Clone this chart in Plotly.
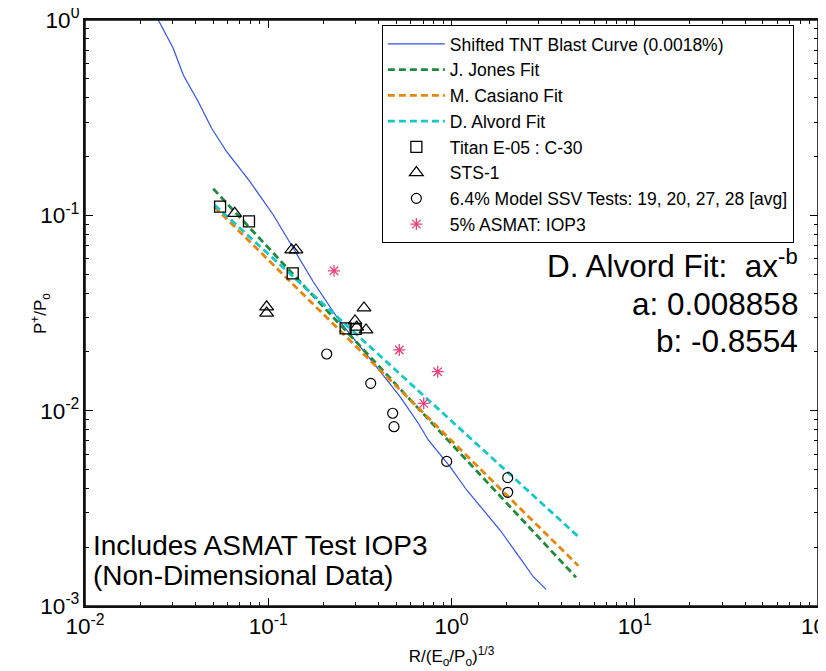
import plotly.graph_objects as go

# ---------------- data ----------------
tnt_x = [0.0251, 0.0303, 0.0344, 0.0415, 0.0491, 0.0593, 0.0795, 0.1066, 0.137,
         0.176, 0.2463, 0.268, 0.330, 0.416, 0.5236, 0.659, 0.747, 0.981, 1.21,
         1.491, 1.839, 2.269, 2.795, 3.28]
tnt_y = [1.0, 0.7164, 0.5232, 0.3818, 0.2790, 0.2117, 0.1487, 0.1004, 0.0678,
         0.0457, 0.02853, 0.0259, 0.02045, 0.01553, 0.01179, 0.00862, 0.00708,
         0.00517, 0.003926, 0.0031, 0.002449, 0.001861, 0.001412, 0.001217]

jones_x = [0.0501, 4.78]
jones_y = [0.1368, 0.001402]

casiano_x = [0.0508, 4.92]
casiano_y = [0.1107, 0.001608]

alvord_x = [0.051, 4.92]
alvord_y = [0.1129, 0.002266]

titan_x = [0.0546, 0.0785, 0.136, 0.2644, 0.300]
titan_y = [0.1107, 0.0932, 0.0505, 0.0264, 0.0262]

sts_x = [0.0656, 0.1343, 0.1417, 0.098, 0.098, 0.333, 0.2975, 0.304, 0.3414]
sts_y = [0.1024, 0.0665, 0.0665, 0.0340, 0.0316, 0.0336, 0.0288, 0.0268, 0.0259]

ssv_x = [0.2085, 0.3624, 0.4775, 0.4855, 0.9414, 2.026, 2.026]
ssv_y = [0.0195, 0.0138, 0.0097, 0.00828, 0.0055, 0.00454, 0.00382]

asmat_x = [0.2285, 0.519, 0.8407, 0.7053]
asmat_y = [0.052, 0.02046, 0.01583, 0.0109]

names = ["Shifted TNT Blast Curve (0.0018%)", "J. Jones Fit", "M. Casiano Fit",
         "D. Alvord Fit", "Titan E-05 : C-30", "STS-1",
         "6.4% Model SSV Tests: 19, 20, 27, 28 [avg]", "5% ASMAT: IOP3"]

# tick labels: plotly's default power labels -> labels shown in the reference
tick_alias = {
    "10<sup>\u22123</sup>": "10<sup>-3</sup>",
    "10<sup>\u22122</sup>": "10<sup>-2</sup>",
    "10<sup>\u22121</sup>": "10<sup>-1</sup>",
    "1": "10<sup>0</sup>",
    "10": "10<sup>1</sup>",
    "10<sup>2</sup>": "10<sup>2</sup>",
}

# ---------------- figure ----------------
FONT = "Liberation Sans, Arial, Helvetica, sans-serif"
NARROW = "Liberation Sans Narrow, Arial Narrow, Liberation Sans, Arial, sans-serif"

fig = go.Figure()
fig.add_trace(go.Scatter(x=tnt_x, y=tnt_y, mode="lines", name=names[0],
                         line=dict(color="#3352E0", width=1.2), legendgroup="a"))
fig.add_trace(go.Scatter(x=jones_x, y=jones_y, mode="lines", name=names[1],
                         line=dict(color="#208A3C", width=2.8, dash="7px,4px"), legendgroup="b"))
fig.add_trace(go.Scatter(x=casiano_x, y=casiano_y, mode="lines", name=names[2],
                         line=dict(color="#E6860F", width=2.8, dash="7px,4px"), legendgroup="c"))
fig.add_trace(go.Scatter(x=alvord_x, y=alvord_y, mode="lines", name=names[3],
                         line=dict(color="#18C6C6", width=2.8, dash="7px,4px"), legendgroup="d"))
fig.add_trace(go.Scatter(x=titan_x, y=titan_y, mode="markers", name=names[4],
                         marker=dict(symbol="square-open", size=11, color="black",
                                     line=dict(width=1.3)), legendgroup="e"))
fig.add_trace(go.Scatter(x=sts_x, y=sts_y, mode="markers", name=names[5],
                         marker=dict(symbol="triangle-up-open", size=12, color="black",
                                     line=dict(width=1.2)), legendgroup="f"))
fig.add_trace(go.Scatter(x=ssv_x, y=ssv_y, mode="markers", name=names[6],
                         marker=dict(symbol="circle-open", size=10, color="black",
                                     line=dict(width=1.2)), legendgroup="g"))
fig.add_trace(go.Scatter(x=asmat_x, y=asmat_y, mode="markers", name=names[7],
                         marker=dict(symbol="asterisk-open", size=10, color="#E8457F",
                                     line=dict(width=1.3, color="#E8457F")), legendgroup="h"))

axis_common = dict(
    type="log", showline=True, linecolor="#111111", linewidth=2, mirror="ticks",
    ticks="inside", ticklen=8, tickcolor="black", tickwidth=1, showgrid=False,
    zeroline=False, automargin=False, tickmode="linear", tick0=0, dtick=1,
    exponentformat="power", showexponent="all", labelalias=tick_alias,
    ticklabeloverflow="allow",
    tickfont=dict(family=NARROW, size=18, color="black"),
    minor=dict(ticks="inside", ticklen=4, tickcolor="black", tickwidth=1,
               dtick="D1", showgrid=False),
)

fig.update_xaxes(**axis_common, range=[-2, 2],
                 title=dict(text="R/(E<sub>o</sub>/P<sub>o</sub>)<sup>1/3</sup>",
                            font=dict(family=NARROW, size=17, color="black"), standoff=12))
fig.update_yaxes(**axis_common, range=[-3, 0])

# axes frame
fig.add_shape(type="rect", xref="paper", yref="paper", x0=0, y0=0, x1=1, y1=1,
              line=dict(color="#111111", width=1.6), fillcolor="rgba(0,0,0,0)", layer="above")

fig.add_annotation(text="P<sup>+</sup>/P<sub>o</sub>", xref="paper", yref="paper",
                   x=-0.0614, y=0.5, xanchor="center", yanchor="middle", textangle=-90,
                   showarrow=False, font=dict(family=NARROW, size=17, color="black"))

fig.add_annotation(text="D. Alvord Fit:  ax<sup>-b</sup>", xref="paper", yref="paper",
                   x=0.9754, y=0.583, xanchor="right", yanchor="middle", showarrow=False,
                   font=dict(family=FONT, size=31.5, color="black"))
fig.add_annotation(text="a: 0.008858", xref="paper", yref="paper",
                   x=0.9754, y=0.515, xanchor="right", yanchor="middle", showarrow=False,
                   font=dict(family=FONT, size=31.5, color="black"))
fig.add_annotation(text="b: -0.8554", xref="paper", yref="paper",
                   x=0.9754, y=0.452, xanchor="right", yanchor="middle", showarrow=False,
                   font=dict(family=FONT, size=31.5, color="black"))
fig.add_annotation(text="Includes ASMAT Test IOP3", xref="paper", yref="paper",
                   x=0.008, y=0.103, xanchor="left", yanchor="middle", showarrow=False,
                   font=dict(family=FONT, size=28, color="black"))
fig.add_annotation(text="(Non-Dimensional Data)", xref="paper", yref="paper",
                   x=0.008, y=0.052, xanchor="left", yanchor="middle", showarrow=False,
                   font=dict(family=FONT, size=28, color="black"))

fig.update_layout(
    width=826, height=671,
    margin=dict(l=77, r=16, t=12, b=73),
    paper_bgcolor="white", plot_bgcolor="white",
    font=dict(family=FONT, color="black"),
    legend=dict(x=0.405, y=0.9915, xanchor="left", yanchor="top",
                bgcolor="white", bordercolor="black", borderwidth=1,
                font=dict(family=FONT, size=17.5, color="black"),
                traceorder="grouped", tracegroupgap=0, itemwidth=57),
)

fig.write_html("out.html")
